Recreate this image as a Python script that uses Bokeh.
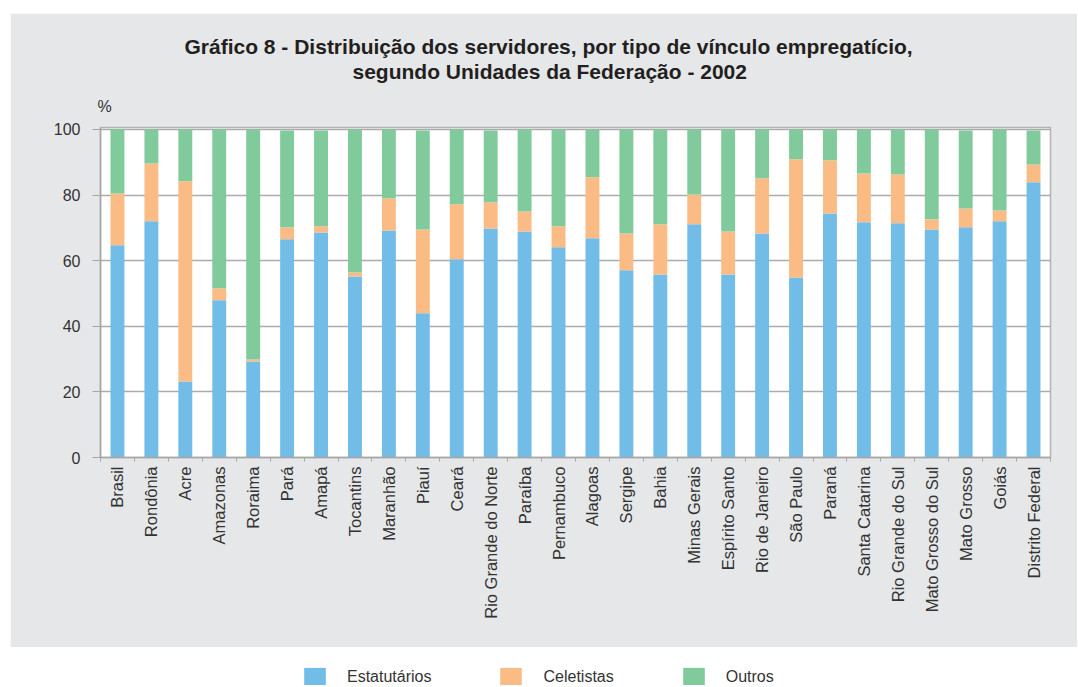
import math
from bokeh.plotting import figure
from bokeh.models import (ColumnDataSource, FixedTicker, Title, Legend,
                          LegendItem, Spacer, Range1d)
from bokeh.layouts import column, row
from bokeh.embed import file_html
from bokeh.resources import INLINE

# ---------------- data ----------------
states = ["Brasil", "Rondônia", "Acre", "Amazonas", "Roraima", "Pará", "Amapá",
          "Tocantins", "Maranhão", "Piauí", "Ceará", "Rio Grande do Norte",
          "Paraíba", "Pernambuco", "Alagoas", "Sergipe", "Bahia", "Minas Gerais",
          "Espírito Santo", "Rio de Janeiro", "São Paulo", "Paraná",
          "Santa Catarina", "Rio Grande do Sul", "Mato Grosso do Sul",
          "Mato Grosso", "Goiás", "Distrito Federal"]
estatutarios = [64.7, 72.0, 23.2, 47.9, 29.3, 66.5, 68.6, 55.2, 69.2, 44.0,
                60.4, 69.8, 68.9, 64.1, 66.8, 57.1, 55.8, 71.1, 55.8, 68.3,
                54.9, 74.4, 71.7, 71.4, 69.5, 70.2, 72.0, 83.9]
celetistas = [15.8, 17.6, 61.0, 3.7, 0.6, 3.7, 1.9, 1.2, 9.8, 25.5,
              16.8, 8.0, 6.1, 6.4, 18.6, 11.2, 15.3, 9.1, 13.1, 16.8,
              36.0, 16.2, 14.9, 14.9, 3.1, 5.7, 3.3, 5.4]
outros = [19.5, 10.4, 15.8, 48.4, 70.1, 29.5, 29.2, 43.6, 21.0, 30.2,
          22.8, 21.9, 25.0, 29.5, 14.6, 31.7, 28.9, 19.8, 31.1, 14.9,
          9.1, 9.4, 13.4, 13.7, 27.4, 23.8, 24.7, 10.4]
series_names = ["Estatutários", "Celetistas", "Outros"]
y_ticks = [0, 20, 40, 60, 80, 100]
title_lines = ["Gráfico 8 - Distribuição dos servidores, por tipo de vínculo empregatício,",
               "segundo Unidades da Federação - 2002"]
unit_label = "%"

colors = ["#72bce8", "#fabb85", "#80ca9b"]
GREY_BG = "#e6e7e8"
TXT = "#333333"
FONT = "Liberation Sans"
AX = "#a6a6a6"

n = len(states)
xs = [i + 0.5 for i in range(n)]
src = ColumnDataSource(dict(x=xs, est=estatutarios, cel=celetistas, out=outros))

p = figure(width=1067, height=634, x_range=(0, n), y_range=(0, 100.6),
           title=None, output_backend="svg", toolbar_location=None,
           min_border_left=90, min_border_right=27,
           min_border_top=114, min_border_bottom=190)
p.border_fill_color = GREY_BG
p.background_fill_color = "white"
p.outline_line_color = "#b3b3b3"
p.outline_line_width = 1.5

p.vbar_stack(["est", "cel", "out"], x="x", width=0.41, color=colors,
             line_color=None, source=src)

# x axis: labels at bar centres, small ticks at category boundaries
p.xaxis.ticker = FixedTicker(ticks=xs, minor_ticks=list(range(n + 1)))
p.xaxis.major_label_overrides = {x: s for x, s in zip(xs, states)}
p.xaxis.major_label_orientation = math.pi / 2
p.xaxis.major_tick_line_color = None
p.xaxis.major_tick_out = 0
p.xaxis.major_tick_in = 0
p.xaxis.minor_tick_line_color = AX
p.xaxis.minor_tick_out = 4
p.xaxis.minor_tick_in = 0
p.xaxis.major_label_standoff = 5
p.xaxis.major_label_text_font = FONT
p.xaxis.major_label_text_font_size = "16.5px"
p.xaxis.major_label_text_color = TXT
p.xaxis.axis_line_color = AX
p.xaxis.axis_line_width = 1.5

p.yaxis.ticker = FixedTicker(ticks=y_ticks)
p.yaxis.major_tick_out = 8
p.yaxis.major_tick_in = 0
p.yaxis.minor_tick_line_color = None
p.yaxis.major_tick_line_color = AX
p.yaxis.major_label_standoff = 12
p.yaxis.major_label_text_font = FONT
p.yaxis.major_label_text_font_size = "16px"
p.yaxis.major_label_text_color = TXT
p.yaxis.axis_line_color = AX
p.yaxis.axis_line_width = 1.5

p.xgrid.visible = False
p.ygrid.ticker = FixedTicker(ticks=y_ticks)
p.ygrid.grid_line_color = "#ababab"
p.ygrid.grid_line_width = 1.5

# above panels, from the plot outward: "%", title line 2, title line 1
p.add_layout(Title(text=unit_label, align="left", offset=-3,
                   text_font=FONT, text_font_size="16px", text_font_style="normal",
                   text_color=TXT, standoff=26), "above")
p.add_layout(Title(text=title_lines[1], align="left", offset=252,
                   text_font=FONT, text_font_size="21px", text_font_style="bold",
                   text_color="#231f20", standoff=0), "above")
p.add_layout(Title(text=title_lines[0], align="left", offset=84,
                   text_font=FONT, text_font_size="21px", text_font_style="bold",
                   text_color="#231f20", standoff=0), "above")

# legend strip (white, below the grey panel)
lg = figure(width=1067, height=38, x_range=Range1d(-3, -2), y_range=(0, 100),
            output_backend="svg", toolbar_location=None,
            x_axis_location=None, y_axis_location=None,
            min_border=0, outline_line_color=None)
lg.border_fill_color = "white"
lg.background_fill_color = "white"
lg.grid.visible = False
rs = lg.vbar_stack(["est", "cel", "out"], x="x", width=0.41, color=colors,
                   line_color=None, source=src)
items = [LegendItem(label=name, renderers=[r]) for name, r in zip(series_names, rs)]
leg = Legend(items=items, orientation="horizontal", location=(291, -4),
             glyph_width=27, glyph_height=24, label_standoff=19, spacing=66,
             padding=0, margin=0, border_line_color=None,
             background_fill_alpha=0, label_text_font=FONT,
             label_text_font_size="16px", label_text_color=TXT)
lg.add_layout(leg)

layout = column(Spacer(height=13),
                row(Spacer(width=10), p, spacing=0),
                row(Spacer(width=10), lg, spacing=0),
                spacing=0)
open("out.html", "w").write(file_html(layout, INLINE))
